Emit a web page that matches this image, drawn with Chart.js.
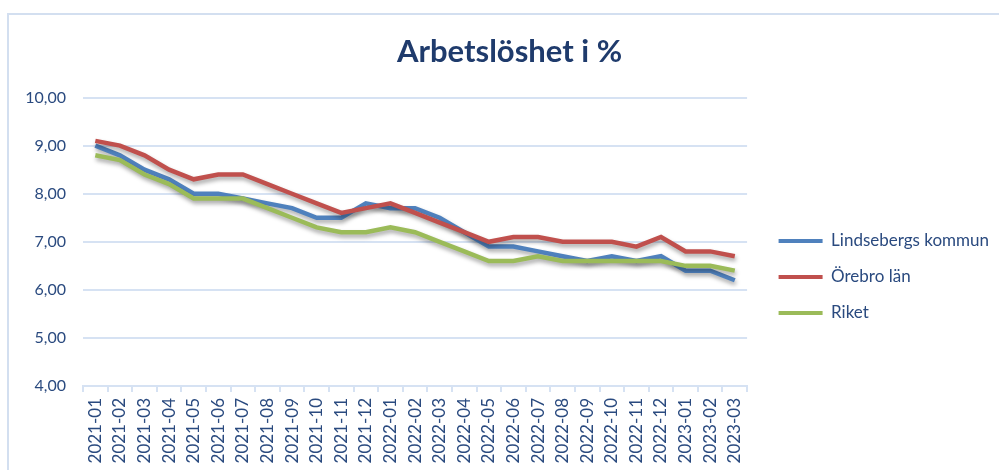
<!DOCTYPE html>
<html>
<head>
<meta charset="utf-8">
<script src="https://cdn.jsdelivr.net/npm/chart.js@4.4.1/dist/chart.umd.min.js"></script>
<style>
html,body{margin:0;padding:0;background:#fff;}
#wrap{position:absolute;left:0;top:0;width:999px;height:470px;}
</style>
</head>
<body>
<div id="wrap"><canvas id="c" width="999" height="470"></canvas></div>
<script>
const categories = ["2021-01","2021-02","2021-03","2021-04","2021-05","2021-06","2021-07","2021-08","2021-09","2021-10","2021-11","2021-12","2022-01","2022-02","2022-03","2022-04","2022-05","2022-06","2022-07","2022-08","2022-09","2022-10","2022-11","2022-12","2023-01","2023-02","2023-03"];
const lindesberg = [9.0,8.8,8.5,8.3,8.0,8.0,7.9,7.8,7.7,7.5,7.5,7.8,7.7,7.7,7.5,7.2,6.9,6.9,6.8,6.7,6.6,6.7,6.6,6.7,6.4,6.4,6.2];
const orebro = [9.1,9.0,8.8,8.5,8.3,8.4,8.4,8.2,8.0,7.8,7.6,7.7,7.8,7.6,7.4,7.2,7.0,7.1,7.1,7.0,7.0,7.0,6.9,7.1,6.8,6.8,6.7];
const riket = [8.8,8.7,8.4,8.2,7.9,7.9,7.9,7.7,7.5,7.3,7.2,7.2,7.3,7.2,7.0,6.8,6.6,6.6,6.7,6.6,6.6,6.6,6.6,6.6,6.5,6.5,6.4];
const seriesNames = ["Lindsebergs kommun","Örebro län","Riket"];
const yTicks = [4,5,6,7,8,9,10];

const textColor = '#2a4a7f';
const gridColor = '#d6e2f3';
const FONT = 'Lato, "Open Sans", sans-serif';

const frame = {
  id:'frame',
  beforeDraw(chart){
    const ctx = chart.ctx;
    ctx.save();
    ctx.strokeStyle = '#d3dff0';
    ctx.lineWidth = 2;
    ctx.beginPath();
    ctx.moveTo(8, 470);
    ctx.lineTo(8, 14);
    ctx.lineTo(999, 14);
    ctx.stroke();
    ctx.restore();
  }
};
const shadow = {
  id:'shadow',
  beforeDatasetsDraw(chart){
    const ctx = chart.ctx;
    ctx.save();
    ctx.shadowColor = 'rgba(0,0,0,0.35)';
    ctx.shadowBlur = 4;
    ctx.shadowOffsetX = 1;
    ctx.shadowOffsetY = 3;
  },
  afterDatasetsDraw(chart){
    chart.ctx.restore();
  }
};

const colors = ['#4f81bd','#c0504d','#9bbb59'];
const data = [lindesberg, orebro, riket];

new Chart(document.getElementById('c'), {
  type:'line',
  data:{
    labels: categories,
    datasets: data.map((d,i)=>({
      label: seriesNames[i],
      data: d,
      borderColor: colors[i],
      backgroundColor: colors[i],
      borderWidth: 4.5,
      pointRadius: 0,
      tension: 0,
      order: 3 - i,
      yAxisID: 'y'
    }))
  },
  options:{
    responsive:false,
    animation:false,
    layout:{padding:{top:0,left:20,right:0,bottom:0}},
    plugins:{
      title:{
        display:true,
        text:'Arbetslöshet i %',
        color:'#1f3b6c',
        font:{family:FONT,size:31,weight:'bold'},
        padding:{top:33.8,bottom:26.6}
      },
      legend:{
        position:'right',
        align:'center',
        maxWidth:242,
        title:{display:true,text:' ',font:{family:FONT,size:12},padding:{top:69.6,bottom:0}},
        labels:{
          color:textColor,
          font:{family:FONT,size:17},
          boxWidth:44,
          boxHeight:4,
          padding:19,
          sort:(a,b)=>a.datasetIndex-b.datasetIndex,
          generateLabels(chart){
            const items = Chart.defaults.plugins.legend.labels.generateLabels(chart);
            items.forEach(it=>{ it.lineWidth = 0; it.fillStyle = colors[it.datasetIndex]; it.strokeStyle = colors[it.datasetIndex]; });
            return items;
          }
        }
      },
      tooltip:{enabled:false}
    },
    scales:{
      x:{
        offset:true,
        afterFit(s){ s.height = 84; },
        grid:{offset:true, drawOnChartArea:false, drawTicks:true, tickLength:6, color:gridColor, lineWidth:2},
        border:{display:true, color:gridColor, width:2},
        ticks:{
          color:textColor,
          font:{family:FONT,size:17},
          autoSkip:false,
          maxRotation:90,
          minRotation:90,
          padding:6
        }
      },
      y:{
        position:'left',
        min:4, max:10,
        afterFit(s){ s.width = 63; },
        afterBuildTicks(s){ s.ticks = yTicks.map(v=>({value:v})); },
        grid:{color:gridColor, lineWidth:2, drawTicks:false},
        border:{display:false},
        ticks:{
          color:textColor,
          font:{family:FONT,size:16},
          padding:17,
          callback:(v)=>Number(v).toFixed(2).replace('.',',')
        }
      },
      y2:{
        position:'right',
        display:true,
        afterFit(s){ s.width = 12.5; },
        grid:{display:false, drawOnChartArea:false},
        border:{display:false},
        ticks:{display:false}
      }
    }
  },
  plugins:[frame, shadow]
});
</script>
</body>
</html>
